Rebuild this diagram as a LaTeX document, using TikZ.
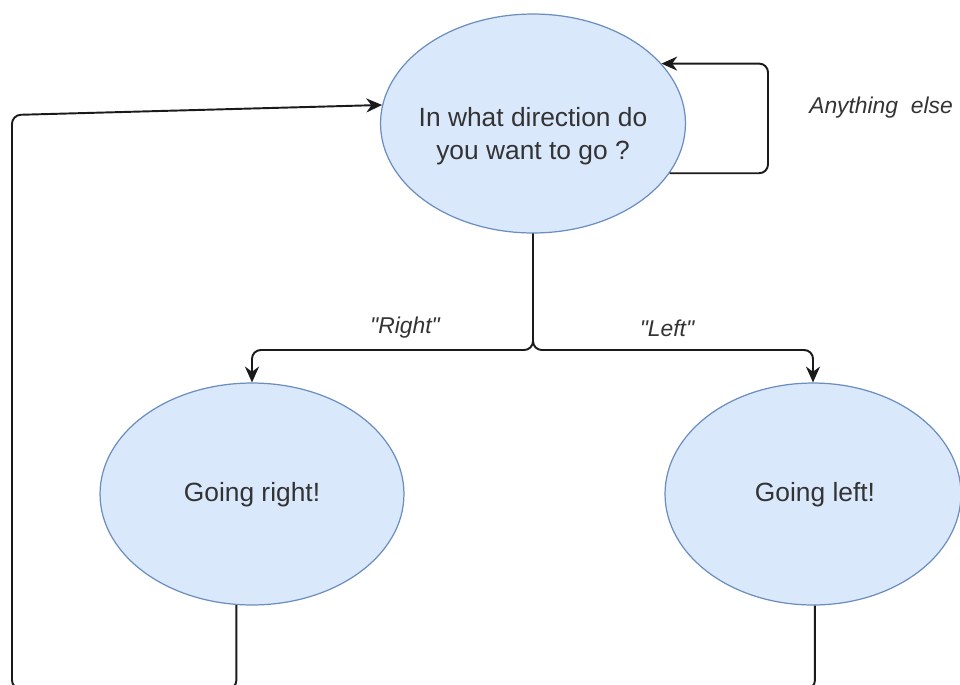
\documentclass[tikz,border=0pt]{standalone}
\usepackage{fontspec}
\setmainfont{Liberation Sans}
\usetikzlibrary{shapes.geometric,arrows.meta}
\definecolor{ellfill}{HTML}{DAE8FC}
\definecolor{elldraw}{HTML}{6C8EBF}
\definecolor{txt}{HTML}{333333}
\definecolor{linec}{HTML}{1A1A1A}
\tikzset{
  state/.style={ellipse, draw=elldraw, fill=ellfill, line width=0.7pt, inner sep=0pt},
  maintext/.style={text=txt, font=\fontsize{15}{19}\selectfont, align=center},
  edgelabel/.style={text=txt, font=\fontsize{13}{16}\selectfont\itshape},
  arr/.style={draw=linec, line width=1.1pt, rounded corners=5pt, -{Stealth[length=9pt,width=8pt]}},
  plain/.style={draw=linec, line width=1.1pt, rounded corners=5pt}
}
\begin{document}
\begin{tikzpicture}[x=0.02cm,y=-0.02cm]
\useasboundingbox (0,0) rectangle (960,684);
\clip (0,0) rectangle (960,684);
% nodes
\node[state, minimum width=6.1cm, minimum height=4.38cm] (q) at (533,123.5) {};
\node[maintext] (qtext) at (533,136) {In what direction do\\you want to go ?};
\node[state, minimum width=6.08cm, minimum height=4.44cm] (l) at (252,494) {};
\node[maintext] (ltext) at (252,495) {Going right!};
\node[state, minimum width=5.92cm, minimum height=4.44cm] (r) at (813,494) {};
\node[maintext] (rtext) at (815,495) {Going left!};
% labels
\node[edgelabel] (lblelse) at (881,108) {Anything\ \ else};
\node[edgelabel] (lblright) at (405,328) {\textquotedbl Right\textquotedbl};
\node[edgelabel] (lblleft) at (667,328) {\textquotedbl Left\textquotedbl};
% helper coordinates
\coordinate (fork) at (533,350);
\coordinate (loopx) at (768,100);
\coordinate (bl) at (12,689);
\coordinate (tl) at (12,115);
\coordinate (br) at (740,689);
% connectors
\draw[arr] (q.south) -- (fork) -| (l.north);
\draw[arr] (q.south) -- (fork) -| (r.north);
\draw[arr] (q.-20) -- (q.-20 -| loopx) |- (q.25);
\draw[arr] (l.-98) |- (bl) -- (tl) -- (q.173);
\draw[plain] (r.-89) |- (br);
\end{tikzpicture}
\end{document}
